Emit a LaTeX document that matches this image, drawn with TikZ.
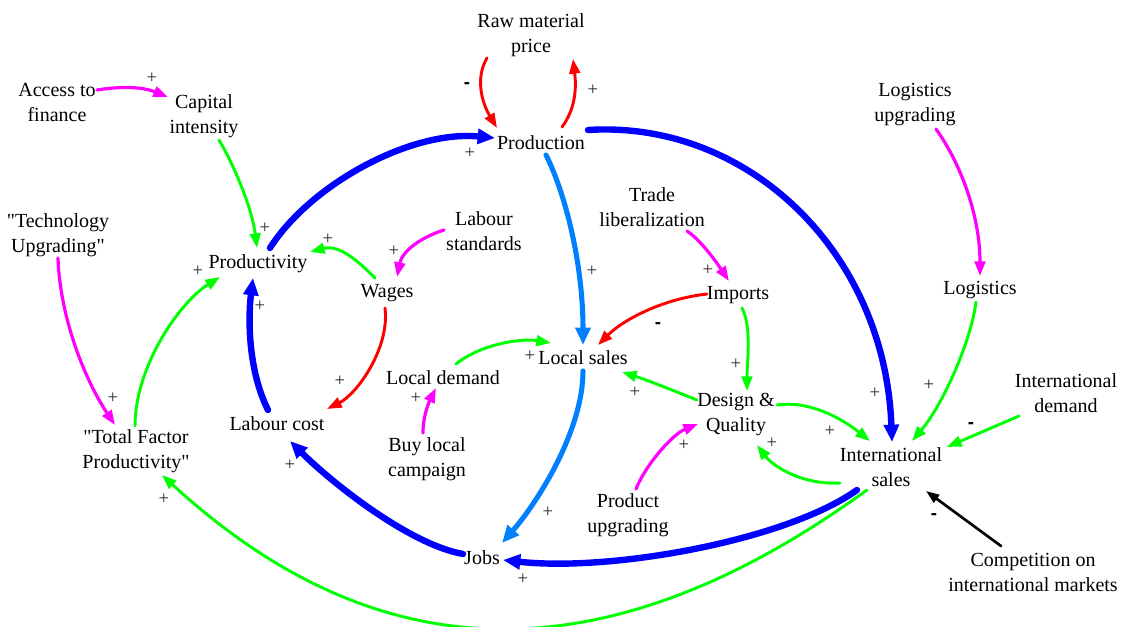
\documentclass[tikz,border=0pt]{standalone}
\usepackage{fontspec}
\setmainfont{Liberation Serif}[Ligatures=TeXOff]
\newfontfamily\lblfont{Liberation Serif}[Ligatures=TeXOff]
\newfontfamily\signfont{Liberation Sans}
\usetikzlibrary{arrows.meta}
\definecolor{cgreen}{RGB}{0,255,0}
\definecolor{cmag}{RGB}{255,0,255}
\definecolor{cred}{RGB}{255,0,0}
\definecolor{cblue}{RGB}{0,0,255}
\definecolor{clblue}{RGB}{0,128,255}
\begin{document}
\begin{tikzpicture}[x=0.75pt,y=-0.75pt,
  lbl/.style={align=center,inner sep=0pt,font=\lblfont\fontsize{15}{18.75}\selectfont},
  pl/.style={inner sep=0pt,font=\lblfont\fontsize{14}{14}\selectfont,text=black!85},
  mi/.style={inner sep=0pt,font=\signfont\bfseries\fontsize{14}{14}\selectfont},
  lnk/.style={line width=2.2pt,line cap=round,-{Triangle[length=11pt,width=8pt]}},
  gr/.style={lnk,draw=cgreen},
  mg/.style={lnk,draw=cmag,line width=2.4pt},
  rd/.style={lnk,draw=cred},
  bk/.style={lnk,draw=black,line width=2pt,-{Triangle[length=10pt,width=7pt]}},
  bl/.style={line width=4.8pt,line cap=round,draw=cblue,-{Triangle[length=13pt,width=11pt]}},
  lb/.style={line width=3.8pt,line cap=round,draw=clblue,-{Triangle[length=13pt,width=11pt]}}]
\useasboundingbox (0,0) rectangle (1122,627);

% nodes
\node[lbl] (raw) at (531,35) {Raw material\\price};
\node[lbl] (acc) at (57,102) {Access to\\finance};
\node[lbl] (cap) at (204,116) {Capital\\intensity};
\node[lbl] (prod) at (541,143) {Production};
\node[lbl] (tech) at (58,235) {"Technology\\Upgrading"};
\node[lbl] (logu) at (915,105) {Logistics\\upgrading};
\node[lbl] (trade) at (652,207) {Trade\\liberalization};
\node[lbl] (labst) at (484,231) {Labour\\standards};
\node[lbl] (pty) at (258,264) {Productivity};
\node[lbl] (wages) at (387,293) {Wages};
\node[lbl] (imp) at (738,295) {Imports};
\node[lbl] (log) at (980,290) {Logistics};
\node[lbl] (lsales) at (583,358) {Local sales};
\node[lbl] (ldem) at (443,378) {Local demand};
\node[lbl] (dq) at (736,415) {Design \&\\Quality};
\node[lbl] (idem) at (1066,393) {International\\demand};
\node[lbl] (lcost) at (277,424) {Labour cost};
\node[lbl] (tfp) at (136,451) {"Total Factor\\Productivity"};
\node[lbl] (buy) at (427,459) {Buy local\\campaign};
\node[lbl] (isales) at (891,467) {International\\sales};
\node[lbl] (pup) at (628,515) {Product\\upgrading};
\node[lbl] (jobs) at (482,558) {Jobs};
\node[lbl] (comp) at (1033,572) {Competition on\\international markets};

% connectors
\draw[mg] ([shift={(40,-12)}]acc.center) .. controls +(25,-4) and +(-25,-10) .. ([shift={(-36,-19)}]cap.center);
\draw[gr] ([shift={(15,24)}]cap.center) .. controls +(15,25) and +(-5,-40) .. ([shift={(-1,-16)}]pty.center);
\draw[bl] ([shift={(12,-16)}]pty.center) .. controls +(40,-63) and +(-85,-8) .. ([shift={(-46,-5)}]prod.center);
\draw[rd] ([shift={(-44,23)}]raw.center) .. controls +(-12,20) and +(-15,-25) .. ([shift={(-44,-15)}]prod.center);
\draw[rd] ([shift={(21,-16)}]prod.center) .. controls +(15,-20) and +(3,25) .. ([shift={(42,24)}]raw.center);
\draw[bl] ([shift={(47,-13)}]prod.center) .. controls +(160,-10) and +(-7,-190) .. ([shift={(1,-25)}]isales.center);
\draw[lb] ([shift={(5,12)}]prod.center) .. controls +(20,40) and +(0,-80) .. ([shift={(0,-13)}]lsales.center);
\draw[mg] ([shift={(-40,-1)}]labst.center) .. controls +(-25,8) and +(5,-25) .. ([shift={(10,-16)}]wages.center);
\draw[gr] ([shift={(-12,-15)}]wages.center) .. controls +(-15,-15) and +(30,-8) .. ([shift={(52,-12)}]pty.center);
\draw[rd] ([shift={(-2,15)}]wages.center) .. controls +(5,40) and +(30,-15) .. ([shift={(50,-15)}]lcost.center);
\draw[bl] ([shift={(-9,-14)}]lcost.center) .. controls +(-20,-40) and +(-5,40) .. ([shift={(-5,14)}]pty.center);
\draw[gr] ([shift={(-1,-25)}]tfp.center) .. controls +(0,-60) and +(-40,25) .. ([shift={(-38,13)}]pty.center);
\draw[mg] ([shift={(0,23)}]tech.center) .. controls +(2,60) and +(-30,-45) .. ([shift={(-21,-26)}]tfp.center);
\draw[mg] ([shift={(35,24)}]trade.center) .. controls +(15,10) and +(-10,-15) .. ([shift={(-9,-14)}]imp.center);
\draw[rd] ([shift={(-31,-1)}]imp.center) .. controls +(-45,5) and +(25,-25) .. ([shift={(15,-13)}]lsales.center);
\draw[gr] ([shift={(4,13)}]imp.center) .. controls +(10,20) and +(0,-30) .. ([shift={(11,-24)}]dq.center);
\draw[gr] ([shift={(13,-14)}]ldem.center) .. controls +(25,-20) and +(-30,-5) .. ([shift={(-32,-15)}]lsales.center);
\draw[mg] ([shift={(-4,-26)}]buy.center) .. controls +(0,-20) and +(-5,10) .. ([shift={(-7,10)}]ldem.center);
\draw[gr] ([shift={(-39,-15)}]dq.center) .. controls +(-25,-10) and +(25,8) .. ([shift={(39,14)}]lsales.center);
\draw[gr] ([shift={(41,-10)}]dq.center) .. controls +(35,-5) and +(-25,-20) .. ([shift={(-21,-26)}]isales.center);
\draw[gr] ([shift={(-51,16)}]isales.center) .. controls +(-40,2) and +(15,20) .. ([shift={(21,30)}]dq.center);
\draw[mg] ([shift={(8,-26)}]pup.center) .. controls +(10,-25) and +(-25,10) .. ([shift={(-38,9)}]dq.center);
\draw[mg] ([shift={(21,24)}]logu.center) .. controls +(25,35) and +(0,-60) .. ([shift={(0,-14)}]log.center);
\draw[gr] ([shift={(-4,12)}]log.center) .. controls +(-5,40) and +(30,-35) .. ([shift={(21,-26)}]isales.center);
\draw[gr] ([shift={(-47,23)}]idem.center) -- ([shift={(56,-20)}]isales.center);
\draw[bk] ([shift={(-32,-26)}]comp.center) -- ([shift={(35,24)}]isales.center);
\draw[bl] ([shift={(-34,23)}]isales.center) .. controls +(-70,50) and +(110,12) .. ([shift={(21,2)}]jobs.center);
\draw[lb] ([shift={(0,13)}]lsales.center) .. controls +(0,60) and +(35,-40) .. ([shift={(20,-15)}]jobs.center);
\draw[bl] ([shift={(-19,-4)}]jobs.center) .. controls +(-55,-10) and +(40,40) .. ([shift={(13,17)}]lcost.center);
\draw[gr] ([shift={(-24,23)}]isales.center) .. controls +(-257,186) and +(220,202) .. ([shift={(26,24)}]tfp.center);

% polarity signs
\node[pl] (s1) at (152,78) {+};
\node[pl] (s2) at (265,228) {+};
\node[pl] (s3) at (470,153) {+};
\node[mi] (s4) at (467,86) {-};
\node[pl] (s5) at (593,90) {+};
\node[pl] (s6) at (875,393) {+};
\node[pl] (s7) at (592,271) {+};
\node[pl] (s8) at (394,251) {+};
\node[pl] (s9) at (328,239) {+};
\node[pl] (s10) at (340,381) {+};
\node[pl] (s11) at (260,306) {+};
\node[pl] (s12) at (198,271) {+};
\node[pl] (s13) at (113,398) {+};
\node[pl] (s14) at (708,270) {+};
\node[mi] (s15) at (658,326) {-};
\node[pl] (s16) at (736,364) {+};
\node[pl] (s17) at (530,356) {+};
\node[pl] (s18) at (416,398) {+};
\node[pl] (s19) at (635,392) {+};
\node[pl] (s20) at (830,431) {+};
\node[pl] (s21) at (772,443) {+};
\node[pl] (s22) at (684,445) {+};
\node[pl] (s23) at (929,385) {+};
\node[mi] (s24) at (971,426) {-};
\node[mi] (s25) at (934,517) {-};
\node[pl] (s26) at (523,579) {+};
\node[pl] (s27) at (548,512) {+};
\node[pl] (s28) at (290,465) {+};
\node[pl] (s29) at (164,499) {+};
\end{tikzpicture}
\end{document}
